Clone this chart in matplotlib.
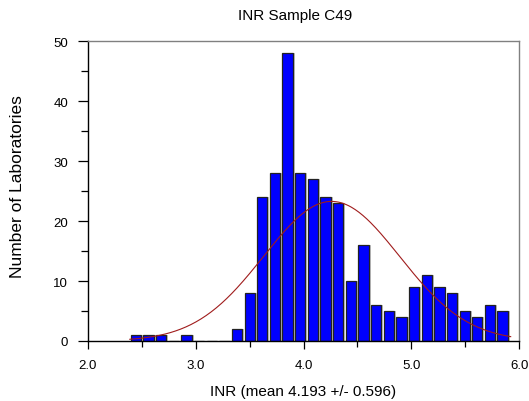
import numpy as np
import matplotlib
matplotlib.use("Agg")
import matplotlib.pyplot as plt
from matplotlib.ticker import MultipleLocator, FormatStrFormatter

plt.rcParams['font.family'] = ['Liberation Sans', 'DejaVu Sans']

# histogram: 30 bins from the lowest to the highest result
bin_start = 2.3985
bin_width = 0.1172
counts = [1, 1, 1, 0, 1, 0, 0, 0, 2, 8,
          24, 28, 48, 28, 27, 24, 23, 10, 16, 6,
          5, 4, 9, 11, 9, 8, 5, 4, 6, 5]

# fitted normal curve as drawn
curve_mean = 4.26
curve_sd = 0.63
curve_range = (2.39, 5.92)

title = "INR Sample C49"
xlabel = "INR (mean 4.193 +/- 0.596)"
ylabel = "Number of Laboratories"

counts = np.array(counts)
lefts = bin_start + bin_width * np.arange(len(counts))

fig = plt.figure(figsize=(5.29, 4.02), dpi=100)
ax = fig.add_axes([0.1658, 0.1493, 0.8159, 0.745])

# light shadow on the right of each bar
ax.bar(lefts + 0.018, counts, width=bin_width * 0.815, align='edge',
       color='#c4c4c4', linewidth=0, zorder=1)
ax.bar(lefts, counts, width=bin_width * 0.815, align='edge',
       color='#0000ff', edgecolor='#222222', linewidth=0.9, zorder=2)

xs = np.linspace(curve_range[0], curve_range[1], 300)
scale = counts.sum() * bin_width
ys = scale / (curve_sd * np.sqrt(2 * np.pi)) * np.exp(-0.5 * ((xs - curve_mean) / curve_sd) ** 2)
ax.plot(xs, ys, color='#a01c1c', linewidth=0.8, zorder=3)

ax.set_xlim(2.0, 6.0)
ax.set_ylim(0, 50)
ax.xaxis.set_major_locator(MultipleLocator(1.0))
ax.xaxis.set_minor_locator(MultipleLocator(0.5))
ax.xaxis.set_major_formatter(FormatStrFormatter('%.1f'))
ax.yaxis.set_major_locator(MultipleLocator(10))
ax.yaxis.set_minor_locator(MultipleLocator(5))

ax.tick_params(which='major', direction='out', length=6, width=0.9, labelsize=9.5, pad=7)
ax.tick_params(which='minor', direction='out', length=4, width=0.9)
ax.tick_params(axis='y', which='major', length=7)
ax.tick_params(axis='y', which='minor', length=5)

for side in ['top', 'right']:
    ax.spines[side].set_color('#808080')
    ax.spines[side].set_linewidth(1.0)
for side in ['left', 'bottom']:
    ax.spines[side].set_color('black')
    ax.spines[side].set_linewidth(1.0)

ax.set_xlabel(xlabel, fontsize=11, labelpad=9)
ax.set_ylabel(ylabel, fontsize=12.5)
ax.yaxis.set_label_coords(-0.146, 0.52)
fig.text(295.5 / 529, 1 - 16 / 402, title, fontsize=11, ha='center', va='center')

fig.savefig("out.png", dpi=100)
